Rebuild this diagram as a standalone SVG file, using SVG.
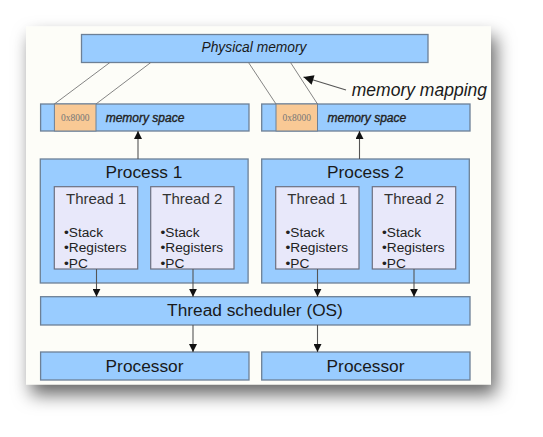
<svg xmlns="http://www.w3.org/2000/svg" width="543" height="437" viewBox="0 0 543 437">
<defs>
<filter id="sh" x="-20%" y="-20%" width="150%" height="150%">
<feDropShadow dx="5" dy="10" stdDeviation="9" flood-color="#000" flood-opacity="0.6"/>
</filter>
<marker id="ah" viewBox="0 0 10 10" refX="10" refY="5" markerWidth="8" markerHeight="8" markerUnits="userSpaceOnUse" orient="auto">
<path d="M0,0 L10,5 L0,10 z" fill="#111"/>
</marker>
<marker id="ah2" viewBox="0 0 10 10" refX="10" refY="5" markerWidth="12" markerHeight="10" markerUnits="userSpaceOnUse" orient="auto">
<path d="M0,0 L10,5 L0,10 z" fill="#111"/>
</marker>
<style>
.box{fill:#99ccff;stroke:#6d8096;stroke-width:1.3}
.thr{fill:#e8e8fa;stroke:#6d7080;stroke-width:1.2}
.org{fill:#f9c995;stroke:#6d8096;stroke-width:1}
text{font-family:"Liberation Sans",Arial,sans-serif;fill:#1a1a1a}
.it{font-style:italic}
.t17{font-size:17.3px;text-anchor:middle}
.th{font-size:15px;text-anchor:middle;fill:#333}
.bl{font-size:13.7px;fill:#222}
.hex{font-family:"Liberation Serif",serif;font-size:9.5px;fill:#777;text-anchor:middle}
.ms{font-size:12px;font-style:italic;fill:#222;stroke:#222;stroke-width:0.35}
.map{stroke:#777;stroke-width:0.9;fill:none}
.arr{stroke:#555;stroke-width:1.1;fill:none;marker-end:url(#ah)}
</style>
</defs>
<rect x="0" y="0" width="543" height="437" fill="#ffffff"/>
<rect x="26" y="26.5" width="465" height="358" fill="#fdfdf8" filter="url(#sh)"/>

<g id="physical-memory">
<rect class="box" x="81.5" y="34.5" width="346.5" height="28"/>
<text class="it" x="254" y="51.5" font-size="13.8" text-anchor="middle">Physical memory</text>
</g>

<g id="memory-space-1">
<rect class="box" x="40.6" y="104" width="208.4" height="27"/>
<rect class="org" x="54.4" y="104" width="41.6" height="27"/>
<text class="hex" x="75.2" y="121">0x8000</text>
<text class="ms" x="105.7" y="121.5">memory space</text>
</g>

<g id="memory-space-2">
<rect class="box" x="261.7" y="104" width="208.3" height="27"/>
<rect class="org" x="276" y="104" width="41.5" height="27"/>
<text class="hex" x="296.8" y="121">0x8000</text>
<text class="ms" x="327.5" y="121.5">memory space</text>
</g>

<g id="memory-mapping-label">
<text class="it" x="351.8" y="95.5" font-size="17.5">memory mapping</text>
</g>

<g id="process-1">
<rect class="box" x="40.3" y="159" width="207.8" height="124"/>
<text class="t17" x="144" y="177.5">Process 1</text>
<g id="p1-thread-1">
<rect class="thr" x="54.3" y="186.7" width="83.4" height="82.3"/>
<text class="th" x="96" y="204">Thread 1</text>
<text class="bl" x="64" y="237">•Stack</text>
<text class="bl" x="64" y="252.3">•Registers</text>
<text class="bl" x="64" y="267.7">•PC</text>
</g>
<g id="p1-thread-2">
<rect class="thr" x="150.7" y="186.7" width="83.3" height="82.3"/>
<text class="th" x="192.3" y="204">Thread 2</text>
<text class="bl" x="160.5" y="237">•Stack</text>
<text class="bl" x="160.5" y="252.3">•Registers</text>
<text class="bl" x="160.5" y="267.7">•PC</text>
</g>
</g>

<g id="process-2">
<rect class="box" x="261.7" y="159" width="207.6" height="124"/>
<text class="t17" x="365.5" y="177.5">Process 2</text>
<g id="p2-thread-1">
<rect class="thr" x="275.7" y="186.7" width="83.3" height="82.3"/>
<text class="th" x="317.3" y="204">Thread 1</text>
<text class="bl" x="285.5" y="237">•Stack</text>
<text class="bl" x="285.5" y="252.3">•Registers</text>
<text class="bl" x="285.5" y="267.7">•PC</text>
</g>
<g id="p2-thread-2">
<rect class="thr" x="372.3" y="186.7" width="83.4" height="82.3"/>
<text class="th" x="414" y="204">Thread 2</text>
<text class="bl" x="382" y="237">•Stack</text>
<text class="bl" x="382" y="252.3">•Registers</text>
<text class="bl" x="382" y="267.7">•PC</text>
</g>
</g>

<g id="thread-scheduler">
<rect class="box" x="40.6" y="296.7" width="429.4" height="28.3"/>
<text class="t17" x="255" y="316">Thread scheduler (OS)</text>
</g>

<g id="processor-1">
<rect class="box" x="40.6" y="352" width="208.4" height="28"/>
<text class="t17" x="144.5" y="372">Processor</text>
</g>

<g id="processor-2">
<rect class="box" x="261.7" y="352" width="208.3" height="28"/>
<text class="t17" x="365.5" y="372">Processor</text>
</g>

<g id="connectors">
<line class="map" x1="109.9" y1="62.5" x2="54.4" y2="104"/>
<line class="map" x1="150.8" y1="62.5" x2="96" y2="104"/>
<line class="map" x1="248.5" y1="62.5" x2="276" y2="104"/>
<line class="map" x1="290.5" y1="62.5" x2="317.5" y2="104"/>
<line x1="346" y1="90" x2="303.5" y2="77" stroke="#555" stroke-width="1.1" marker-end="url(#ah2)"/>
<line class="arr" x1="138" y1="159" x2="138" y2="131"/>
<line class="arr" x1="359.5" y1="159" x2="359.5" y2="131"/>
<line class="arr" x1="96.5" y1="269" x2="96.5" y2="296.7"/>
<line class="arr" x1="193" y1="269" x2="193" y2="296.7"/>
<line class="arr" x1="317.5" y1="269" x2="317.5" y2="296.7"/>
<line class="arr" x1="414" y1="269" x2="414" y2="296.7"/>
<line class="arr" x1="193" y1="325" x2="193" y2="352"/>
<line class="arr" x1="317.5" y1="325" x2="317.5" y2="352"/>
</g>
</svg>
